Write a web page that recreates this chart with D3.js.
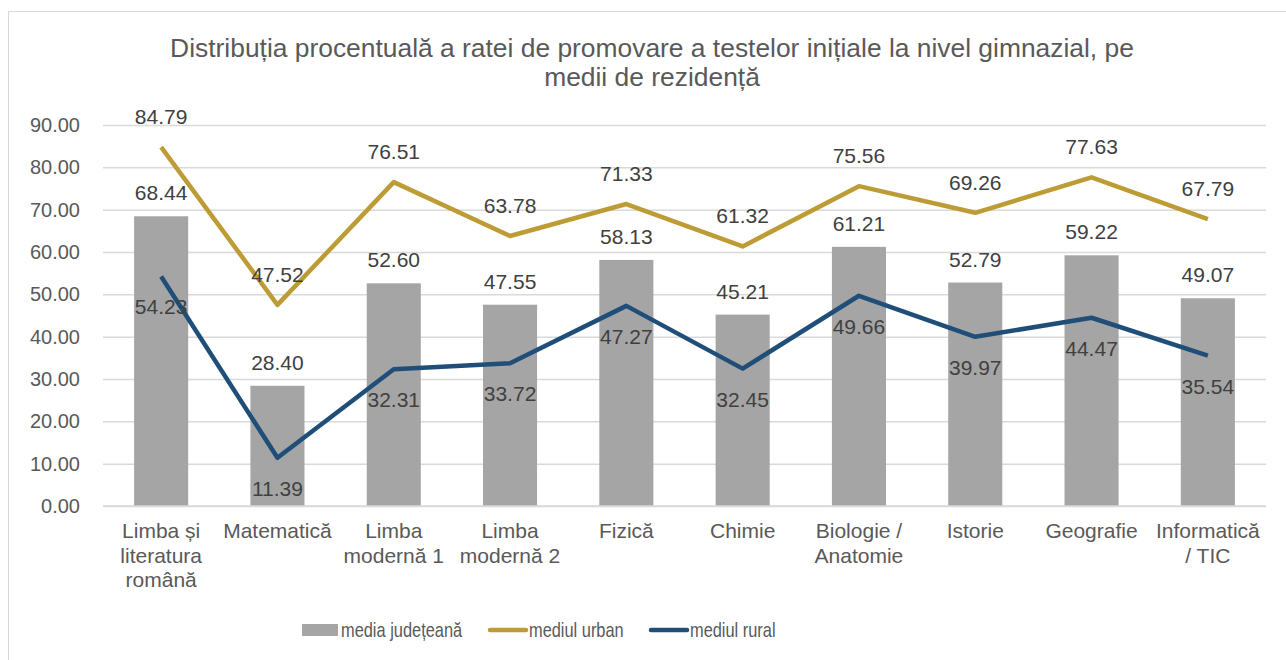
<!DOCTYPE html>
<html>
<head>
<meta charset="utf-8">
<script src="https://cdn.jsdelivr.net/npm/d3@7"></script>
<style>
  body { margin: 0; background: #fff; }
  text { font-family: "Liberation Sans", Arial, sans-serif; }
</style>
</head>
<body>
<div id="chart"></div>
<script>
// data
let categories = ["Limba și literatura română", "Matematică", "Limba modernă 1", "Limba modernă 2",
  "Fizică", "Chimie", "Biologie / Anatomie", "Istorie", "Geografie", "Informatică / TIC"];
// wrapped labels as seen in the picture
let categoryLines = [["Limba și", "literatura", "română"], ["Matematică"], ["Limba", "modernă 1"],
  ["Limba", "modernă 2"], ["Fizică"], ["Chimie"], ["Biologie /", "Anatomie"], ["Istorie"],
  ["Geografie"], ["Informatică", "/ TIC"]];
let mediaJudeteana = [68.44, 28.40, 52.60, 47.55, 58.13, 45.21, 61.21, 52.79, 59.22, 49.07];
let mediulUrban = [84.79, 47.52, 76.51, 63.78, 71.33, 61.32, 75.56, 69.26, 77.63, 67.79];
let mediulRural = [54.23, 11.39, 32.31, 33.72, 47.27, 32.45, 49.66, 39.97, 44.47, 35.54];
let yTicks = [0, 10, 20, 30, 40, 50, 60, 70, 80, 90];
let seriesNames = ["media județeană", "mediul urban", "mediul rural"];

let width = 1286;
let height = 660;
let margin = ({top: 125, right: 20, bottom: 154, left: 103});
let textColor = "#595959";
let labelColor = "#404040";
let barColor = "#A5A5A5";
let urbanColor = "#BD9B35";
let ruralColor = "#1F4E79";

let svg = d3.select("#chart")
  .append("svg")
  .attr("width", width)
  .attr("height", height);

// chart frame
svg.append("rect")
  .attr("x", 8.5).attr("y", 11.5)
  .attr("width", width + 10).attr("height", height)
  .attr("fill", "none")
  .attr("stroke", "#D9D9D9")
  .attr("stroke-width", 1);

let xScale = d3.scaleBand()
  .domain(categories)
  .range([margin.left, width - margin.right])
  .paddingInner(0.535)
  .paddingOuter(0.2675);

let yScale = d3.scaleLinear()
  .domain([0, 90])
  .range([height - margin.bottom, margin.top]);

// title
let titleLines = ["Distribuția procentuală a ratei de promovare a testelor inițiale la nivel gimnazial, pe",
  "medii de rezidență"];
svg.append("g")
  .selectAll("text")
  .data(titleLines)
  .enter()
  .append("text")
  .attr("x", 652)
  .attr("y", function(d, i) { return 57 + i * 29; })
  .attr("text-anchor", "middle")
  .attr("fill", textColor)
  .style("font-size", "26.4px")
  .text(function(d) { return d; });

// gridlines
let yAxis = d3.axisLeft(yScale)
  .tickValues(yTicks)
  .tickFormat(d3.format(".2f"))
  .tickSize(-(width - margin.left - margin.right))
  .tickPadding(23);

let gy = svg.append("g")
  .attr("transform", "translate(" + margin.left + ",0)")
  .call(yAxis);
gy.select(".domain").remove();
gy.selectAll(".tick line").attr("stroke", "#D9D9D9").attr("stroke-width", 1.5);
gy.selectAll(".tick text")
  .attr("fill", textColor)
  .style("font-family", null)
  .style("font-size", "20px");

// bars
let band = xScale.bandwidth();
svg.append("g")
  .selectAll(".bar")
  .data(mediaJudeteana)
  .enter()
  .append("rect")
  .attr("class", "bar")
  .attr("x", function(d, i) { return xScale(categories[i]); })
  .attr("y", function(d) { return yScale(d); })
  .attr("width", band)
  .attr("height", function(d) { return yScale(0) - yScale(d); })
  .attr("fill", barColor);

// x axis baseline
svg.append("line")
  .attr("x1", margin.left).attr("x2", width - margin.right)
  .attr("y1", yScale(0)).attr("y2", yScale(0))
  .attr("stroke", "#D9D9D9").attr("stroke-width", 1.5);

let cx = function(i) { return xScale(categories[i]) + band / 2; };

// lines
let line = d3.line()
  .x(function(d, i) { return cx(i); })
  .y(function(d) { return yScale(d); });

svg.append("path")
  .datum(mediulUrban)
  .attr("d", line)
  .attr("fill", "none")
  .attr("stroke", urbanColor)
  .attr("stroke-width", 4.5)
  .attr("stroke-linejoin", "round");

svg.append("path")
  .datum(mediulRural)
  .attr("d", line)
  .attr("fill", "none")
  .attr("stroke", ruralColor)
  .attr("stroke-width", 4.5)
  .attr("stroke-linejoin", "round");

// data labels
function addLabels(values, offset) {
  svg.append("g")
    .selectAll("text")
    .data(values)
    .enter()
    .append("text")
    .attr("x", function(d, i) { return cx(i); })
    .attr("y", function(d) { return yScale(d) + offset; })
    .attr("text-anchor", "middle")
    .attr("fill", labelColor)
    .style("font-size", "21px")
    .text(function(d) { return d3.format(".2f")(d); });
}
addLabels(mediaJudeteana, -16);
addLabels(mediulUrban, -23);
addLabels(mediulRural, 38);

// category labels
let xl = svg.append("g")
  .selectAll(".xlab")
  .data(categoryLines)
  .enter()
  .append("text")
  .attr("class", "xlab")
  .attr("text-anchor", "middle")
  .attr("fill", textColor)
  .style("font-size", "21px")
  .attr("x", function(d, i) { return cx(i); })
  .attr("y", 538);
xl.selectAll("tspan")
  .data(function(d) { return d; })
  .enter()
  .append("tspan")
  .attr("x", function() { return d3.select(this.parentNode).attr("x"); })
  .attr("dy", function(d, i) { return i === 0 ? 0 : 24.5; })
  .text(function(d) { return d; });

// legend
let legend = svg.append("g");
legend.append("rect")
  .attr("x", 302).attr("y", 624).attr("width", 36).attr("height", 12)
  .attr("fill", barColor);
legend.append("line")
  .attr("x1", 490).attr("x2", 526).attr("y1", 630).attr("y2", 630)
  .attr("stroke", urbanColor).attr("stroke-width", 4.5).attr("stroke-linecap", "round");
legend.append("line")
  .attr("x1", 651).attr("x2", 687).attr("y1", 630).attr("y2", 630)
  .attr("stroke", ruralColor).attr("stroke-width", 4.5).attr("stroke-linecap", "round");
let legendX = [341, 529, 690];
// legend text in the original is a condensed face, squeeze it horizontally
legend.selectAll(".ltext")
  .data(seriesNames)
  .enter()
  .append("text")
  .attr("class", "ltext")
  .attr("transform", function(d, i) { return "translate(" + legendX[i] + ",637) scale(0.82,1)"; })
  .attr("fill", textColor)
  .style("font-size", "20px")
  .text(function(d) { return d; });
</script>
</body>
</html>
